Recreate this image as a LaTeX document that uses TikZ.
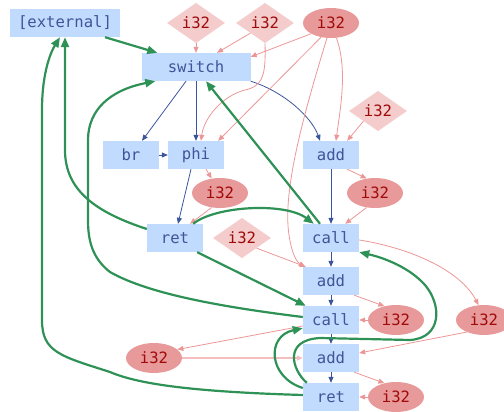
\documentclass[tikz,border=0pt]{standalone}
\usepackage{fontspec}
\setmonofont{DejaVu Sans Mono}
\usetikzlibrary{shapes.geometric,arrows.meta}
\definecolor{boxfill}{RGB}{193,219,254}
\definecolor{boxtext}{RGB}{62,86,152}
\definecolor{diafill}{RGB}{244,204,204}
\definecolor{ellfill}{RGB}{232,153,153}
\definecolor{redtext}{RGB}{160,10,10}
\definecolor{pinkedge}{RGB}{236,150,150}
\definecolor{paleedge}{RGB}{244,190,190}
\definecolor{blueedge}{RGB}{58,85,155}
\definecolor{greenedge}{RGB}{46,145,85}
\begin{document}
\begin{tikzpicture}[x=1pt,y=-1pt,
  every node/.style={font=\ttfamily\fontsize{15.6}{15.6}\selectfont, inner sep=0pt},
  blk/.style={rectangle, fill=boxfill, text=boxtext, minimum height=28pt, minimum width=56pt},
  dia/.style={diamond, fill=diafill, text=redtext, minimum width=58pt, minimum height=40pt},
  ell/.style={ellipse, fill=ellfill, text=redtext, minimum width=56pt, minimum height=30pt},
  bl/.style={draw=blueedge, line width=0.8pt, -{Triangle[length=6pt,width=5pt]}},
  pk/.style={draw=pinkedge, line width=0.8pt, -{Triangle[length=6pt,width=5pt]}},
  gr/.style={draw=greenedge, line width=2.2pt, -{Triangle[length=10pt,width=8pt]}},
]
\useasboundingbox (0,0) rectangle (504,412);
% nodes
\node[blk, minimum width=110pt] (ext) at (65,23) {[external]};
\node[blk, minimum width=109pt] (sw) at (196,67) {switch};
\node[dia] (d1) at (196,23) {i32};
\node[dia] (d2) at (265,23) {i32};
\node[ell] (e1) at (331,23) {i32};
\node[blk] (br) at (131,155) {br};
\node[blk] (phi) at (196,155) {phi};
\node[blk] (add1) at (331,155) {add};
\node[dia] (d3) at (378,111) {i32};
\node[ell] (e2) at (220,193) {i32};
\node[ell] (e3) at (375,193) {i32};
\node[blk] (ret1) at (175,238) {ret};
\node[dia] (d4) at (242,238) {i32};
\node[blk] (call1) at (331,238) {call};
\node[blk] (add2) at (331,281) {add};
\node[blk] (call2) at (331,320) {call};
\node[ell] (e4) at (396,320) {i32};
\node[ell] (e5) at (484,320) {i32};
\node[ell] (e6) at (154,358) {i32};
\node[blk] (add3) at (331,358) {add};
\node[blk] (ret2) at (331,397) {ret};
\node[ell] (e7) at (396,397) {i32};

% blue edges
\draw[bl] ([xshift=-10pt]sw.south) -- ([xshift=11pt]br.north);
\draw[bl] (sw.south) -- (phi.north);
\draw[bl] (sw.south east) .. controls (285,92) and (312,118) .. ([xshift=-11pt]add1.north);
\draw[bl] (br) -- (phi);
\draw[bl] ([xshift=-5pt]phi.south) -- ([xshift=3pt]ret1.north);
\draw[bl] (add1) -- (call1);
\draw[bl] (call1) -- (add2);
\draw[bl] (add2) -- (call2);
\draw[bl] (call2) -- (add3);
\draw[bl] (add3) -- (ret2);

% pink edges
\draw[pk] (d1.south) -- (sw.north);
\draw[pk] (d2.south west) -- ([xshift=21pt]sw.north);
\draw[pk] (e1.south west) -- ([yshift=-4pt]sw.north east);
\draw[pk] (d2.south) .. controls (266,75) and (263,86) .. (245,90) .. controls (222,96) and (204,118) .. ([xshift=5pt]phi.north);
\draw[pk] (e1.235) -- ([xshift=-6pt]phi.north east);
\draw[pk] (e1.255) .. controls (305,110) and (282,190) .. (289,235) .. controls (292,255) and (297,262) .. ([xshift=2pt]add2.north west);
\draw[pk] (e1.290) .. controls (348,70) and (340,110) .. ([xshift=5pt]add1.north);
\draw[pk] (d3.south west) -- ([xshift=-12pt]add1.north east);
\draw[pk] ([xshift=-12pt]add1.south east) -- (e3.120);
\draw[pk] (e3.240) -- ([xshift=-14pt]call1.north east);
\draw[pk] ([xshift=10pt]phi.south) -- (e2.120);
\draw[pk] (e2.240) -- ([xshift=15pt]ret1.north);
\draw[pk] (d4.south east) -- ([xshift=3pt]add2.north west);
\draw[pk] ([yshift=-2pt]call1.east) .. controls (410,248) and (460,270) .. (e5.110);
\draw[pk] (e5.215) -- ([yshift=5pt]add3.east);
\draw[pk] ([xshift=-5pt]add2.south east) -- (e4.130);
\draw[pk] (e4) -- (call2);
\draw[pk] ([yshift=-6pt]call2.west) -- (e6.20);
\draw[pk, draw=paleedge, line width=1.5pt] (e6) -- (add3);
\draw[pk] ([xshift=-5pt]add3.south east) -- (e7.130);
\draw[pk] (e7) -- (ret2);

% green edges
\draw[gr] ([xshift=40pt]ext.south) -- ([xshift=16pt]sw.north west);
\draw[gr] ([yshift=9pt]ret1.west) .. controls (95,212) and (65,190) .. (65,150) -- (ext.south);
\draw[gr] ([yshift=2pt]ret2.west) .. controls (200,392) and (140,385) .. (110,372) .. controls (60,356) and (42,352) .. (42,320) -- (42,110) .. controls (42,70) and (52,50) .. ([xshift=-5pt]ext.south);
\draw[gr] ([xshift=-11pt]call1.north) -- ([xshift=10pt]sw.south);
\draw[gr] ([yshift=3pt]call2.west) .. controls (230,308) and (150,295) .. (110,272) .. controls (92,258) and (88,240) .. (88,220) -- (88,140) .. controls (88,110) and (110,90) .. ([xshift=14pt]sw.south west);
\draw[gr] ([xshift=-6pt]ret1.south east) -- ([xshift=3pt]call2.north west);
\draw[gr] ([xshift=-10pt]ret1.north east) .. controls (215,206) and (285,202) .. ([xshift=11pt]call1.north west);
\draw[gr] ([xshift=4pt]ret2.north west) .. controls (292,370) and (283,340) .. (320,338) -- (410,340) .. controls (442,338) and (442,305) .. (425,285) .. controls (410,268) and (385,258) .. (call1.south east);
\draw[gr] ([yshift=9pt]ret2.west) .. controls (268,377) and (266,336) .. ([yshift=6pt]call2.south west);
\end{tikzpicture}
\end{document}
